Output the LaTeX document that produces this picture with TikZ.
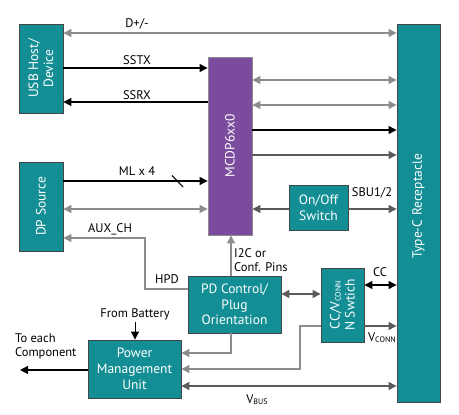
\documentclass[tikz,border=0pt]{standalone}
\usepackage{fontspec}
\setmainfont{PT Sans}
\usetikzlibrary{arrows.meta}
\definecolor{tealbox}{HTML}{128E94}
\definecolor{purpbox}{HTML}{7B4C9E}
\definecolor{lgray}{HTML}{8C8C8C}
\definecolor{dgray}{HTML}{5A5A5A}
\definecolor{bord}{HTML}{454545}
\newcommand{\sub}[1]{{\fontsize{8}{8}\selectfont\raisebox{-1.2pt}{#1}}}
\begin{document}
\begin{tikzpicture}[x=1pt,y=-1pt,
  box/.style={draw=bord, fill=tealbox, text=white, line width=0.9pt, inner sep=0pt,
    align=center, font=\fontsize{13.5}{15.7}\selectfont},
  rtext/.style={rotate=90, text=white, align=center, font=\fontsize{13.5}{15}\selectfont},
  pbox/.style={box, fill=purpbox, draw=lgray},
  gl/.style={draw=lgray, line width=1.2pt},
  dl/.style={draw=dgray, line width=1.2pt},
  bl/.style={draw=black, line width=1.2pt},
  lbl/.style={font=\fontsize{12.5}{14}\selectfont, inner sep=0pt},
  >={Triangle[length=8pt,width=8pt]}
]
\useasboundingbox (0,0) rectangle (459,415);
% boxes
\node[box, minimum width=44pt, minimum height=89pt] (usb) at (41,68.5) {};
\node[rtext] (usbt) at (usb.center) {USB Host/\\Device};
\node[box, minimum width=44pt, minimum height=89pt] (dp) at (41,206.5) {};
\node[rtext] (dpt) at (dp.center) {DP Source};
\node[pbox, minimum width=44pt, minimum height=178pt] (mcdp) at (230,146) {};
\node[rtext] (mcdpt) at (mcdp.center) {MCDP6xx0};
\node[box, minimum width=43pt, minimum height=378pt] (typec) at (418.5,213) {};
\node[rtext] (typect) at (418.5,206) {Type-C Receptacle};
\node[box, minimum width=59pt, minimum height=45pt] (onoff) at (318.5,207.5) {On/Off\\Switch};
\node[box, minimum width=93pt, minimum height=57pt] (pd) at (234.5,304.5) {PD Control/\\Plug\\Orientation};
\node[box, minimum width=43pt, minimum height=74pt] (ccsw) at (342.5,305) {};
\node[rtext] (ccswt) at (ccsw.center) {CC/V\sub{CONN}\\N Swtich};
\node[box, minimum width=93pt, minimum height=58pt] (pmu) at (134.5,369) {Power\\Management\\Unit};
% coordinates
\coordinate (aux1) at (145,289);
\coordinate (aux2) at (145,238);
\coordinate (pw1) at (231,353);
\coordinate (vc1) at (300,326);
\coordinate (vc2) at (300,369);
\coordinate (bat) at (135,322);
\coordinate (comp) at (20,370);
% USB lines
\draw[gl,<->] (usb.east |- 0,33) -- (typec.west |- 0,33);
\draw[bl,->] (usb.east |- 0,68) -- (mcdp.west |- 0,68);
\draw[bl,<-] (usb.east |- 0,102) -- (mcdp.west |- 0,102);
% DP lines
\draw[bl,->] (dp.east |- 0,181) -- (mcdp.west |- 0,181);
\draw[bl, line width=1.1pt] (172,175.5) -- (183,187);
\draw[gl,<->] (dp.east |- 0,209) -- (mcdp.west |- 0,209);
\draw[gl,->] (pd.west |- aux1) -- (aux1) -- (aux2) -- (dp.east |- aux2);
% MCDP to Type-C
\draw[gl,<->] (mcdp.east |- 0,80) -- (typec.west |- 0,80);
\draw[gl,<->] (mcdp.east |- 0,105) -- (typec.west |- 0,105);
\draw[bl,->] (mcdp.east |- 0,130) -- (typec.west |- 0,130);
\draw[dl,->] (mcdp.east |- 0,155) -- (typec.west |- 0,155);
\draw[dl,->] (onoff.west |- 0,209) -- (mcdp.east |- 0,209);
\draw[dl,->] (onoff.east |- 0,209) -- (typec.west |- 0,209);
% I2C
\draw[gl,->] (pd.north -| 231,0) -- (mcdp.south -| 231,0);
% PD - CC
\draw[dl,<->] (pd.east |- 0,294) -- (ccsw.west |- 0,294);
\draw[bl,<->] (ccsw.east |- 0,285) -- (typec.west |- 0,285);
\draw[dl,->] (ccsw.east |- 0,326) -- (typec.west |- 0,326);
% PMU
\draw[gl,->] (pd.south -| pw1) -- (pw1) -- (pmu.east |- pw1);
\draw[gl,->] (ccsw.west |- vc1) -- (vc1) -- (vc2) -- (pmu.east |- vc2);
\draw[dl,<->] (pmu.east |- 0,386) -- (typec.west |- 0,386);
\draw[bl,->, line width=1pt] (bat) -- (pmu.north -| bat);
\draw[bl,->] (pmu.west |- comp) -- (comp);
% labels
\node[lbl] (l1) at (137,24) {D+/-};
\node[lbl] (l2) at (137,60) {SSTX};
\node[lbl] (l3) at (137,95) {SSRX};
\node[lbl] (l4) at (137,171) {ML x 4};
\node[lbl] (l5) at (110,229) {AUX\_CH};
\node[lbl] (l6) at (167,279) {HPD};
\node[lbl] (l7) at (372,193) {SBU1/2};
\node[lbl, anchor=west, align=left] (l8) at (234,260) {I2C or\\Conf. Pins};
\node[lbl] (l9) at (380,272) {CC};
\node[lbl] (l10) at (382,338) {V\sub{CONN}};
\node[lbl] (l11) at (257,400) {V\sub{BUS}};
\node[lbl] (l12) at (135,314) {From Battery};
\node[lbl, anchor=west, align=left] (l13) at (15,346) {To each\\Component};
\end{tikzpicture}
\end{document}
